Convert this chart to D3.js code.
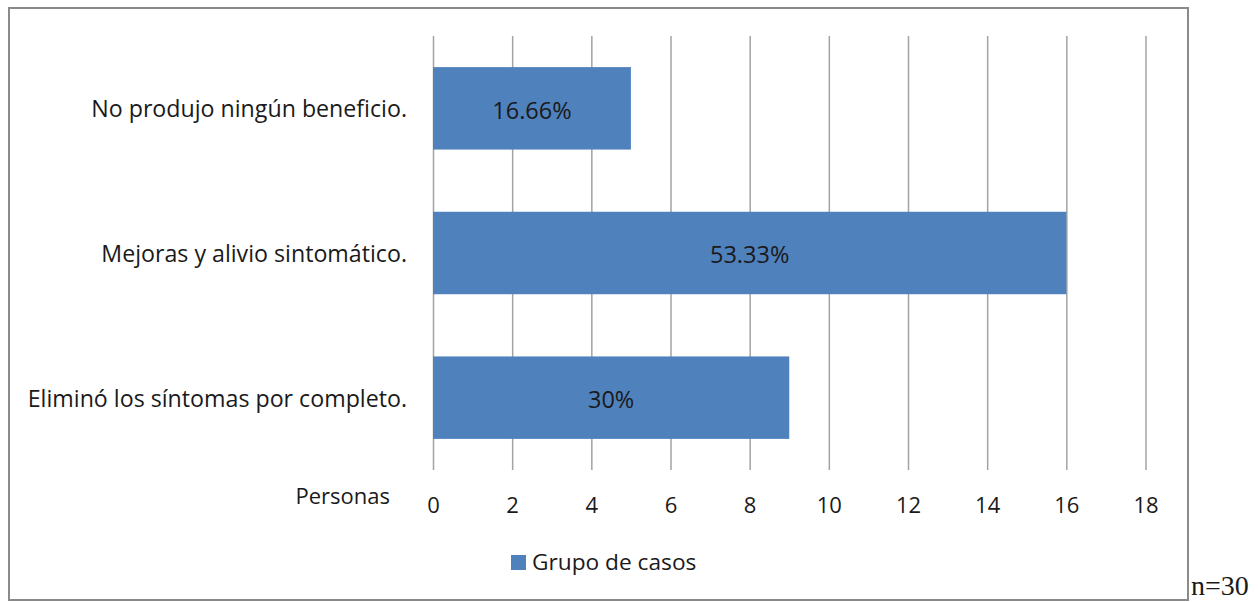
<!DOCTYPE html>
<html>
<head>
<meta charset="utf-8">
<script src="https://cdn.jsdelivr.net/npm/d3@7"></script>
<style>
  html, body { margin: 0; padding: 0; background: #fff; }
  svg { display: block; }
  text { font-family: "Open Sans", Lato, sans-serif; fill: #1a1a1a; }
</style>
</head>
<body>
<svg id="chart" width="1258" height="602"></svg>
<script>
// Respuestas al tratamiento (n = 30)
const categories = [
  "No produjo ningún beneficio.",
  "Mejoras y alivio sintomático.",
  "Eliminó los síntomas por completo."
];
const values = [5, 16, 9];
const valueLabels = ["16.66%", "53.33%", "30%"];
const tickValues = [0, 2, 4, 6, 8, 10, 12, 14, 16, 18];
const seriesName = "Grupo de casos";
const axisTitle = "Personas";
const sampleNote = "n=30";

const svg = d3.select("#chart");
const plot = { left: 433, right: 1145.5, top: 36, bottom: 470 };
const barColor = "#4F81BD";
const gridColor = "#a3a3a3";

const x = d3.scaleLinear().domain([0, 18]).range([plot.left, plot.right]);
const y = d3.scaleBand()
  .domain(categories)
  .range([plot.top, plot.bottom])
  .paddingInner(0.43)
  .paddingOuter(0.215);

// chart frame
svg.append("rect")
  .attr("x", 9).attr("y", 8)
  .attr("width", 1179).attr("height", 592)
  .attr("fill", "none")
  .attr("stroke", "#8a8a8a")
  .attr("stroke-width", 2);

// vertical gridlines + value tick labels
const xAxis = d3.axisBottom(x)
  .tickValues(tickValues)
  .tickSize(-(plot.bottom - plot.top))
  .tickPadding(27)
  .tickFormat(d3.format("d"));

const gx = svg.append("g")
  .attr("transform", `translate(0,${plot.bottom})`)
  .call(xAxis);
gx.select(".domain").remove();
gx.selectAll(".tick line")
  .attr("stroke", gridColor)
  .attr("stroke-width", 1.5);
gx.selectAll(".tick text")
  .attr("font-size", 22)
  .attr("fill", "#1a1a1a")
  .style("font-family", "'Open Sans', Lato, sans-serif");

// axis title
svg.append("text")
  .attr("x", 390)
  .attr("y", plot.bottom + 26)
  .attr("dy", "0.35em")
  .attr("text-anchor", "end")
  .attr("font-size", 22)
  .text(axisTitle);

// bars
svg.append("g").selectAll("rect")
  .data(categories)
  .join("rect")
  .attr("x", x(0))
  .attr("y", d => y(d))
  .attr("width", (d, i) => x(values[i]) - x(0))
  .attr("height", y.bandwidth())
  .attr("fill", barColor);

// bar value labels
svg.append("g").selectAll("text")
  .data(categories)
  .join("text")
  .attr("x", (d, i) => (x(0) + x(values[i])) / 2)
  .attr("y", d => y(d) + y.bandwidth() / 2 + 2)
  .attr("dy", "0.35em")
  .attr("text-anchor", "middle")
  .attr("font-size", 23.5)
  .text((d, i) => valueLabels[i]);

// category labels
svg.append("g").selectAll("text")
  .data(categories)
  .join("text")
  .attr("x", 407)
  .attr("y", d => y(d) + y.bandwidth() / 2 + 1)
  .attr("dy", "0.35em")
  .attr("text-anchor", "end")
  .attr("font-size", 23.2)
  .text(d => d);

// legend
const legend = svg.append("g").attr("transform", "translate(511,555)");
legend.append("rect")
  .attr("width", 15).attr("height", 15)
  .attr("fill", barColor);
legend.append("text")
  .attr("x", 21).attr("y", 7.5)
  .attr("dy", "0.35em")
  .attr("font-size", 22.7)
  .text(seriesName);

// sample size note
svg.append("text")
  .attr("x", 1191)
  .attr("y", 595)
  .attr("font-size", 28)
  .style("font-family", "'Liberation Serif', 'DejaVu Serif', serif")
  .attr("fill", "#000")
  .text(sampleNote);
</script>
</body>
</html>
